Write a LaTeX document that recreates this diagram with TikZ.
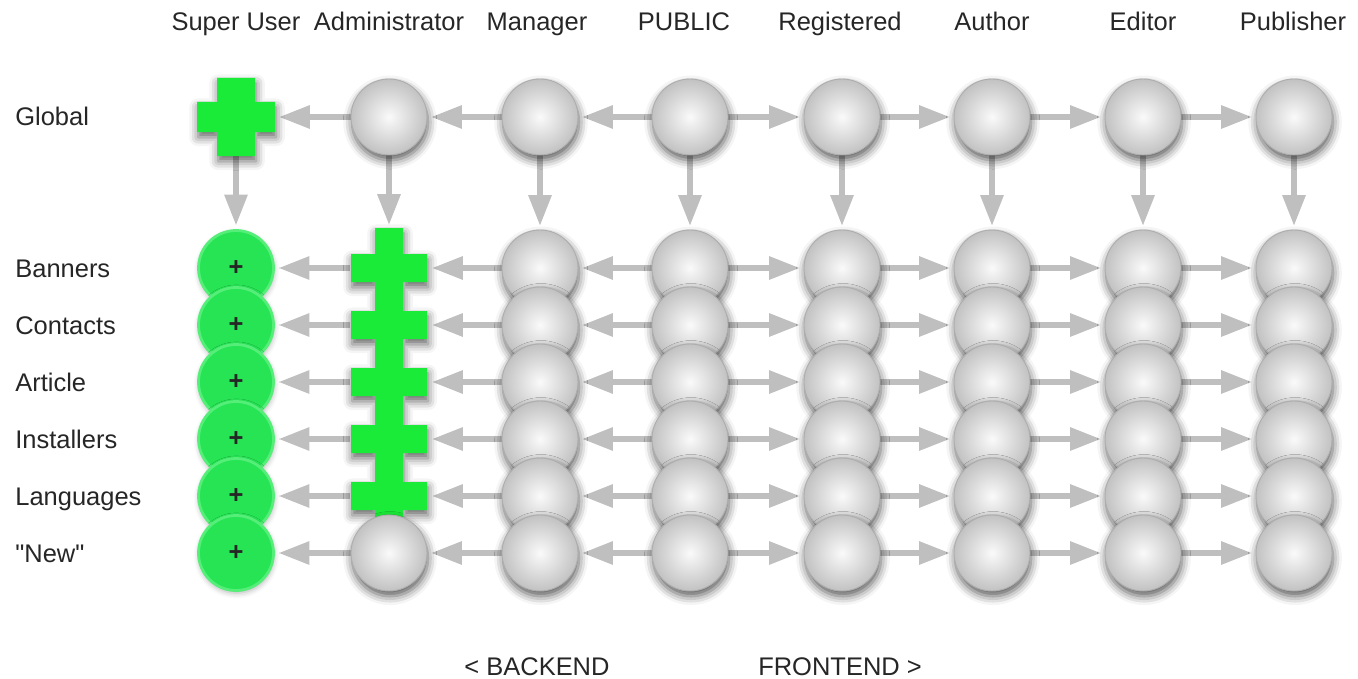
\documentclass[tikz,border=0pt]{standalone}
\usepackage{fontspec}
\setmainfont{Liberation Sans}
\usetikzlibrary{arrows.meta,shadows.blur,backgrounds}
\definecolor{crossgreen}{RGB}{26,234,56}
\definecolor{spotgreen}{RGB}{38,228,84}
\definecolor{spotring}{RGB}{84,238,120}

\begin{document}
\begin{tikzpicture}[x=0.02cm,y=-0.02cm,
    font={\fontsize{14.5}{17}\selectfont},
    every node/.style={text=black!85},
    role/.style={anchor=base},
    rowname/.style={anchor=base west,inner sep=0pt},
    ball/.style={circle,minimum size=1.52cm,inner sep=0pt,draw=black!32,line width=0.5pt,
        inner color=black!2,outer color=black!24,
        blur shadow={shadow xshift=0.6pt,shadow yshift=-3pt,shadow blur radius=5pt,shadow opacity=65}},
    spot/.style={circle,minimum size=1.5cm,inner sep=0pt,fill=spotgreen,draw=spotring,line width=1.6pt,
        blur shadow={shadow xshift=0.3pt,shadow yshift=-1.5pt,shadow blur radius=3pt,shadow opacity=30}},
    hole/.style={circle,minimum size=1.56cm,inner sep=0pt},
    greencross/.style={fill=crossgreen,
        blur shadow={shadow xshift=0.6pt,shadow yshift=-3pt,shadow blur radius=5pt,shadow opacity=60}},
    link/.style={draw=black!25,line width=0.12cm,-{Triangle[length=0.62cm,width=0.44cm]},shorten >=2pt}]
\useasboundingbox (0,0) rectangle (1358,679);

% column heads and row names
\foreach \c/\t/\x in {su/Super User/236,adm/Administrator/389,mgr/Manager/537,pub/PUBLIC/684,
    reg/Registered/840,aut/Author/992,edi/Editor/1143,pbl/Publisher/1293}
  \node[role] (hdr-\c) at (\x,31) {\t};
\foreach \r/\t/\y in {glob/Global/117,ban/Banners/268,con/Contacts/325,art/Article/382,
    ins/Installers/439,lan/Languages/496,new/\textquotedbl New\textquotedbl/553}
  \node[rowname] (lbl-\r) at (15,\y+9) {\t};
\node[role] (backend) at (537,675) {< BACKEND};
\node[role] (frontend) at (840,675) {FRONTEND >};

% super user: cross on top, green spots below
\fill[greencross] (217,78) rectangle (255,156) (197,102) rectangle (275,132);
\node[hole] (su-glob) at (236,117) {};
\foreach \r/\y in {ban/268,con/325,art/382,ins/439,lan/496,new/553}
  \node[spot] (su-\r) at (236,\y) {\textbf{+}};

% administrator: one column of crosses
\fill[greencross] (375,228) rectangle (403,534)
  \foreach \y in {268,325,382,439,496} { (351,\y-14) rectangle (427,\y+14) };
\foreach \r/\y in {ban/268,con/325,art/382,ins/439,lan/496}
  \node[hole] (adm-\r) at (389,\y) {};
\node[ball] (adm-glob) at (389,117) {};
\node[ball] (adm-new) at (389,553) {};

% plain balls, lower rows on top
\foreach \r/\y in {glob/117,ban/268,con/325,art/382,ins/439,lan/496,new/553}
  \foreach \c/\x in {mgr/540,pub/690,reg/842,aut/992,edi/1143,pbl/1294}
    \node[ball] (\c-\r) at (\x,\y) {};

\begin{scope}[on background layer]
\foreach \r in {glob,ban,con,art,ins,lan,new} {
  \draw[link] (adm-\r) -- (su-\r);
  \draw[link] (mgr-\r) -- (adm-\r);
  \draw[link] (pub-\r) -- (mgr-\r);
  \draw[link] (pub-\r) -- (reg-\r);
  \draw[link] (reg-\r) -- (aut-\r);
  \draw[link] (aut-\r) -- (edi-\r);
  \draw[link] (edi-\r) -- (pbl-\r);
}
\foreach \c in {su,adm,mgr,pub,reg,aut,edi,pbl}
  \draw[link] (\c-glob) -- (\c-ban);
\end{scope}
\end{tikzpicture}
\end{document}
